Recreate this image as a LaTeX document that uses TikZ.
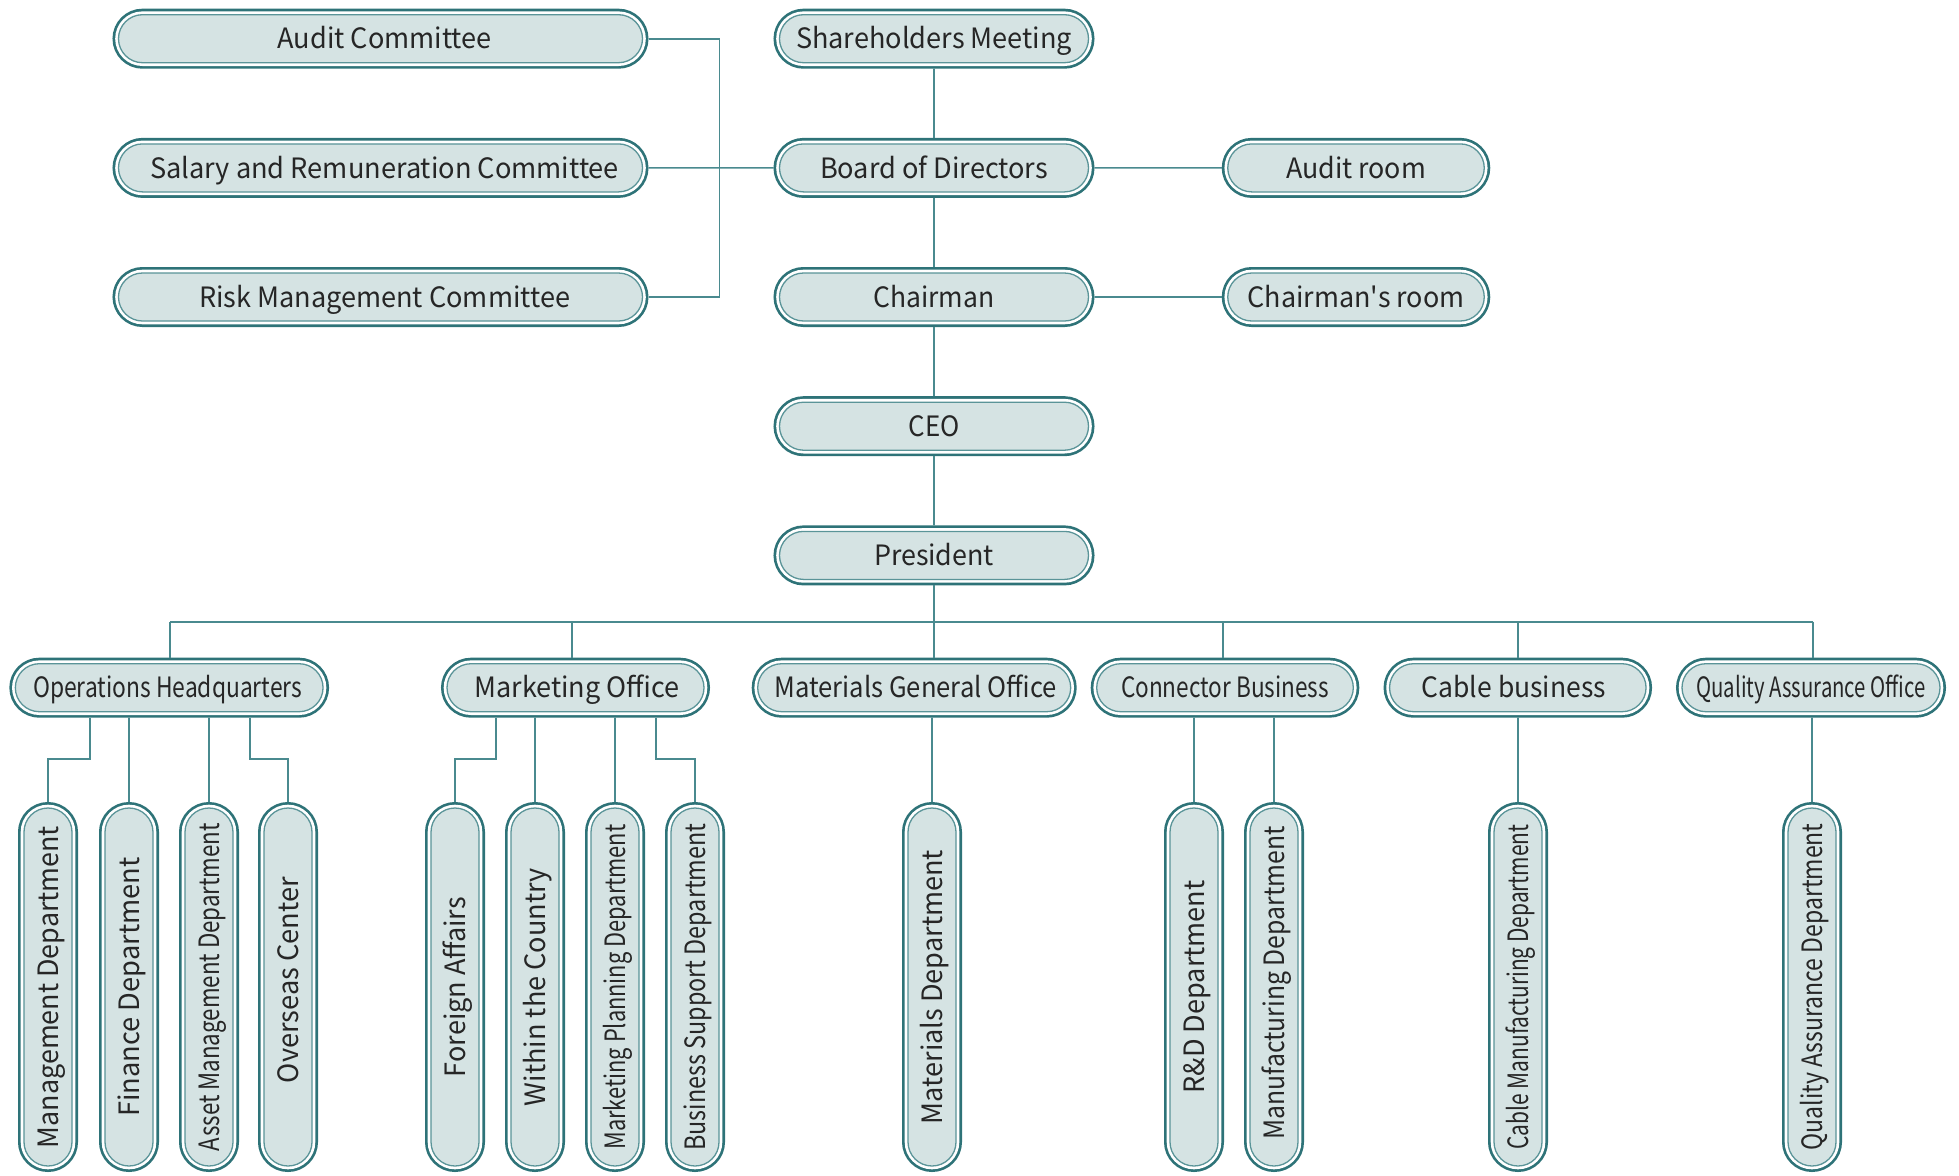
\documentclass[tikz,border=0pt]{standalone}
\usepackage{fontspec}
\setmainfont{Noto Sans CJK TC}
\usetikzlibrary{shapes.misc}

\definecolor{edgeteal}{HTML}{2E7378}
\definecolor{innerteal}{HTML}{5A9498}
\definecolor{boxfill}{HTML}{D5E3E3}
\definecolor{linkteal}{HTML}{4A8A8F}
\definecolor{inktext}{HTML}{262626}

% set a label to a given width (in pt), keeping its height
\newcommand{\sq}[2]{\resizebox{#1pt}{\height}{#2}}

\tikzset{
  unit/.style={rounded rectangle, fill=boxfill, draw=innerteal, line width=1.3pt,
    preaction={draw=edgeteal, line width=12pt},
    preaction={draw=white, line width=6.6pt},
    inner sep=0pt, outer sep=6pt, text=inktext,
    font=\fontsize{28}{33}\selectfont, text height=20.5pt, text depth=0pt,
    minimum height=48pt},
  hbox/.style={unit, minimum width=#1},
  vbox/.style={unit, rotate=90, minimum width=358pt},
  link/.style={draw=linkteal, line width=1.6pt},
}

\begin{document}
\begin{tikzpicture}[x=1pt, y=-1pt]
  \useasboundingbox (0,0) rectangle (1959,1175);

  % governance column
  \node[hbox=309pt] (sh) at (934,38.7) {\sq{276}{Shareholders Meeting}};
  \node[hbox=309pt] (bd) at (934,167.9) {\sq{228}{Board of Directors}};
  \node[hbox=309pt] (ch) at (934,297) {\sq{121}{Chairman}};
  \node[hbox=309pt] (ceo) at (934,426.2) {\sq{51}{CEO}};
  \node[hbox=309pt] (pr) at (934,555.4) {\sq{120}{President}};

  % committees
  \node[hbox=524pt] (ac) at (380.5,38.7) {\hspace*{8pt}\sq{214}{Audit Committee}};
  \node[hbox=524pt] (sal) at (380.5,167.9) {\hspace*{8pt}\sq{469}{Salary and Remuneration Committee}};
  \node[hbox=524pt] (rmc) at (380.5,297) {\hspace*{8pt}\sq{371}{Risk Management Committee}};

  % offices beside the board
  \node[hbox=256.5pt] (ar) at (1356,167.9) {\sq{140}{Audit room}};
  \node[hbox=256.5pt] (cr) at (1356,297) {\sq{217}{Chairman\textquotesingle s room}};

  % divisions
  \node[hbox=307.7pt] (ops) at (169.2,687.7) {\sq{269}{Operations Headquarters}\hspace*{3pt}};
  \node[hbox=257pt] (mo) at (575.5,687.7) {\hspace*{3pt}\sq{205}{Marketing Office}};
  \node[hbox=313pt] (mgo) at (914.2,687.7) {\hspace*{3pt}\sq{282}{Materials General Office}};
  \node[hbox=256.6pt] (cb) at (1225,687.7) {\sq{208}{Connector Business}};
  \node[hbox=256.5pt] (cab) at (1517.8,687.7) {\sq{184}{Cable business}\hspace*{8pt}};
  \node[hbox=258pt] (qao) at (1811,687.7) {\sq{229}{Quality Assurance Office}};

  % departments
  \node[vbox] (md) at (48,987) {\sq{322}{Management Department}};
  \node[vbox] (fd) at (129,987) {\sq{259}{Finance Department}};
  \node[vbox] (amd) at (209,987) {\sq{328}{Asset Management Department}};
  \node[vbox] (oc) at (288,987) {\hspace*{14pt}\sq{206}{Overseas Center}};
  \node[vbox] (fa) at (455,987) {\sq{180}{Foreign Affairs}};
  \node[vbox] (wc) at (535,987) {\sq{238}{Within the Country}};
  \node[vbox] (mpd) at (615,987) {\sq{325}{Marketing Planning Department}};
  \node[vbox] (bsd) at (695,987) {\sq{327}{Business Support Department}};
  \node[vbox] (mat) at (932,987) {\sq{274}{Materials Department}};
  \node[vbox] (rd) at (1194,987) {\sq{213}{R\&D Department}};
  \node[vbox] (mfd) at (1274,987) {\hspace*{8pt}\sq{313}{Manufacturing Department}};
  \node[vbox] (cmd) at (1518,987) {\sq{325}{Cable Manufacturing Department}};
  \node[vbox] (qad) at (1812,987) {\sq{327}{Quality Assurance Department}};

  % junction points
  \coordinate (brk) at (719.6,167.9);
  \coordinate (busL) at (170,621.7);
  \coordinate (busR) at (1813,621.7);
  \coordinate (dmo) at (572,621.7);
  \coordinate (dcb) at (1223,621.7);
  \coordinate (dcab) at (1518,621.7);
  \coordinate (j1) at (90,759);
  \coordinate (j2) at (250,759);
  \coordinate (j3) at (496,759);
  \coordinate (j4) at (656,759);

  % governance chain
  \draw[link] (sh) -- (bd);
  \draw[link] (bd) -- (ch);
  \draw[link] (ch) -- (ceo);
  \draw[link] (ceo) -- (pr);
  \draw[link] (bd) -- (ar);
  \draw[link] (ch) -- (cr);
  \draw[link] (sal) -- (bd);
  \draw[link] (ac.east) -| (brk) |- (rmc.east);

  % bus to the divisions
  \draw[link] (busL) -- (busR);
  \draw[link] (pr.south) -- (pr.south |- mgo.north);
  \draw[link] (busL) -- (busL |- ops.north);
  \draw[link] (dmo) -- (dmo |- mo.north);
  \draw[link] (dcb) -- (dcb |- cb.north);
  \draw[link] (dcab) -- (dcab |- cab.north);
  \draw[link] (busR) -- (busR |- qao.north);

  % operations headquarters
  \draw[link] (ops.south -| j1) -- (j1) -| (md);
  \draw[link] (ops.south -| fd) -- (fd);
  \draw[link] (ops.south -| amd) -- (amd);
  \draw[link] (ops.south -| j2) -- (j2) -| (oc);

  % marketing office
  \draw[link] (mo.south -| j3) -- (j3) -| (fa);
  \draw[link] (mo.south -| wc) -- (wc);
  \draw[link] (mo.south -| mpd) -- (mpd);
  \draw[link] (mo.south -| j4) -- (j4) -| (bsd);

  % single-line branches
  \draw[link] (mgo.south -| mat) -- (mat);
  \draw[link] (cb.south -| rd) -- (rd);
  \draw[link] (cb.south -| mfd) -- (mfd);
  \draw[link] (cab.south -| cmd) -- (cmd);
  \draw[link] (qao.south -| qad) -- (qad);
\end{tikzpicture}
\end{document}
